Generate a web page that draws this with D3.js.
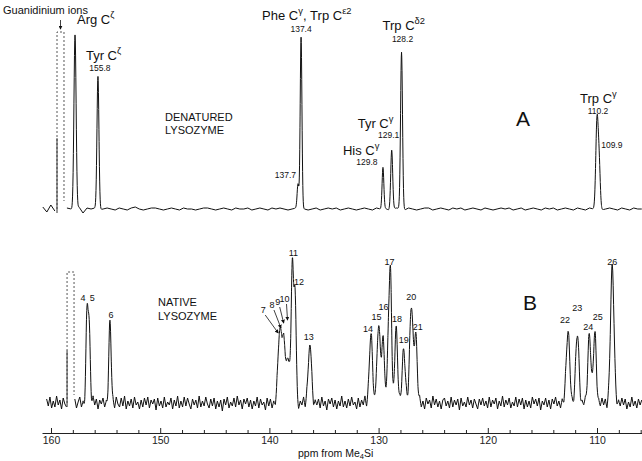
<!DOCTYPE html>
<html>
<head>
<meta charset="utf-8">
<script src="https://cdn.jsdelivr.net/npm/d3@7"></script>
<style>
body { margin: 0; background: #fff; }
svg { display: block; font-family: "Liberation Sans", Arial, sans-serif; fill: #111; }
.trace { fill: none; stroke: #111; stroke-width: 1; stroke-linejoin: round; }
.clip { fill: none; stroke: #444; stroke-width: 0.9; stroke-dasharray: 2,2; }
.clipsolid { fill: none; stroke: #333; stroke-width: 1; }
.axis path, .axis line { stroke: #222; stroke-width: 1; }
.axis text { font-family: "Liberation Sans", Arial, sans-serif; font-size: 10.5px; fill: #222; }
.ptr { stroke: #111; stroke-width: 0.8; }
</style>
</head>
<body>
<svg id="chart" width="642" height="461"></svg>
<script>
// ---------------- data ----------------
// axis ticks (ppm)
var tickMajor = [160, 150, 140, 130, 120, 110];
var tickMinor = [158, 156, 154, 152, 148, 146, 144, 142, 138, 136, 134, 132,
                 128, 126, 124, 122, 118, 116, 114, 112, 108, 106];

// spectrum A (denatured) resolved lines: ppm, intensity, linewidth (sd, ppm)
var peakA_ppm = [157.8, 155.7, 137.38, 137.1, 129.6, 128.8, 127.9, 110.0, 109.8];
var peakA_int = [177, 133, 24, 171, 41, 59, 157, 87, 42];
var peakA_sd  = [0.10, 0.09, 0.08, 0.08, 0.08, 0.09, 0.09, 0.11, 0.10];

// spectrum B (native) resolved lines
var peakB_id  = ["4","5","6","7","8","9","10","11","12","13","14","15","","16","17","18","19","20","21","22","23","24","25","26"];
var peakB_ppm = [156.7, 156.5, 154.6, 139.1, 138.85, 138.6, 138.25, 137.9, 137.65, 136.3,
                 130.7, 130.0, 129.6, 129.1, 128.9, 128.4, 127.7, 127.0, 126.6,
                 112.65, 111.8, 110.7, 110.2, 108.6];
var peakB_int = [86, 72, 80, 58, 50, 44, 46, 138, 112, 58,
                 68, 78, 62, 72, 123, 76, 56, 96, 68,
                 71, 69, 66, 70, 135];
var peakB_sd  = [0.10, 0.10, 0.11, 0.14, 0.14, 0.14, 0.14, 0.10, 0.10, 0.15,
                 0.15, 0.14, 0.14, 0.10, 0.10, 0.13, 0.14, 0.15, 0.13,
                 0.16, 0.15, 0.14, 0.14, 0.16];

// off-scale guanidinium signal (ppm edges, clipped height)
var guanA_ppm = [159.45, 158.81], guanA_top = 177;
var guanB_ppm = [158.53, 157.89], guanB_top = 131;

var rangeA = [160.75, 105.9];
var noiseA = [2,-3,4,-2,3,-4,1,0,-3,2, -4,1,0,1,-1,0,1,0,-1,1,
              0,-1,1,2,0,-1,0,1,1,0, -1,0,1,0,-1,1,0,0,-1,0,
              1,1,0,-1,0,1,0,-1,1,0, 0,1,-1,0,1,0,-1,1,0,1,
              0,-1,0,1,1,0,-1,0,1,-1, 0,1,0,1,-1,0,1,0,-1,0,
              1,0,-1,1,0,1,-1,0,1,0, -1,1,0,-1,0,1,1,-1,0,1,
              0,-1,1,0,1,-1,0,1,0,-1, 1,0,-1,0,1,0,1,-1,0,1,
              -1,0,1,0,-1,1,0,1,-1,0, 1,0,-1,1,0,-1,1,0,1,-1,
              0,1,0,-1,1,0,-1,1,0,0];
var rangeB = [160.4, 105.9];
var noiseB = [4,-3,6,-5,2,-4,7,-2,3,-6,5,-1,-4,3,-7,5,-2,4,-5,1,
              6,-4,2,-6,5,-3,1,-5,7,-2,4,-6,3,-1,5,-4,2,-7,4,-2,
              3,-5,6,-1,-4,5,-3,7,-6,2,-3,4,-5,6,-2,1,-6,3,-4,5,
              -2,6,-5,3,-1,4,-7,5,-3,2,-5,6,-4,1,-2,5,-6,3,-3,7,
              -5,2,-4,6,-3,5,-1,-6,4,-2,3,-5,7,-4,2,-3,6,-1,-5,4,
              -3,5,-6,2,-4,3,-8,4,-2,6,-5,1,-3,5,-4,7,-2,3,-6,4,
              -1,5,-4,3,-6,2,-3,6,-5,4,-2,1,-7,5,-3,4,-5,2,-4,6,
              -2,3,-5,7,-3,2,-6,4,-1,5,-4,3,-6,2,-2,6,-5,4,-3,1,
              5,-6,3,-2,4,-5,6,-3,2,-7,4,-1,5,-4,3,-6,2,-3,7,-4,
              2,-5,4,-3,6,-2,1,-6,5,-4,3,-2,7,-5,2,-3,4,-6,1,5,
              -4,3,-6,5,-1,2,-5,6,-3,4,-7,3,-2,5,-4,1,-6,4,-3,6,
              -2,4,-5,3,-3,6,-4,2,-6,5,-1,3,-5,7,-2,4,-4,2,-6,3,
              5,-3,2,-5,6,-4,3,-2,4,-7,5,-3,1,-4,6,-2,3,-5,4,-1,
              -6,4,-2,5,-3,2,-5,6,-4,3,-1,5,-6,2,-3,7,-4,3,-2,5,
              -5,1,-3,6,-4,4,-2,5,-6,3,-4,2,-5,6,-1,4,-3,5,-7,2,
              -2,5,-4,3,-6,4,-1,6,-3,2,-5,4,-3,7,-2,3,-5,1,-4,6,
              -3,4,-6,2,-2,5,-4,6,-1,3,-5,4,-7,2,-3,5,-2,4,-6,3,
              -1,6,-4,2,-5,3,-3,5,-2,4,-6,1,-4,6,-3,2,-5,4,-2,3];

// ---------------- layout ----------------
var svg = d3.select("#chart");
var x = d3.scaleLinear().domain([160, 110]).range([51, 597]);
var yA = d3.scaleLinear().domain([0, 100]).range([209, 109]);
var yB = d3.scaleLinear().domain([0, 100]).range([403, 303]);

// build a trace from the line list plus baseline noise
function buildTrace(ppms, ints, sds, noise, range, gap) {
  var idx = d3.scaleLinear().domain([0, noise.length - 1]).range(range);
  var pos = noise.map(function(v, i) { return idx(i); });
  var noiseAt = d3.scaleLinear().domain(pos).range(noise);
  var pts = pos.slice();
  ppms.forEach(function(p, k) {
    d3.range(-4, 4.01, 0.25).forEach(function(s) { pts.push(p + s * sds[k]); });
  });
  pts = pts.filter(function(p) { return p <= range[0] && p >= range[1]; })
           .sort(function(a, b) { return b - a; });
  return pts.map(function(p) {
    var v = noiseAt(p) + d3.sum(ppms, function(c, k) {
      return ints[k] * Math.exp(-((p - c) * (p - c)) / (2 * sds[k] * sds[k]));
    });
    return {ppm: p, v: v, gap: gap && p < gap[0] && p > gap[1]};
  });
}

function drawTrace(data, y, width) {
  var line = d3.line()
    .defined(function(d) { return !d.gap; })
    .x(function(d) { return x(d.ppm); })
    .y(function(d) { return y(d.v); });
  svg.append("path").datum(data).attr("class", "trace")
    .attr("stroke-width", width).attr("d", line);
}

function drawClip(edges, top, y) {
  var x0 = x(edges[0]), x1 = x(edges[1]), b = y(0), t = y(top);
  svg.append("path").attr("class", "clip")
    .attr("d", d3.line()([[x0, b], [x0, t], [x1, t], [x1, b - 8]]));
  svg.append("path").attr("class", "clipsolid")
    .attr("d", d3.line()([[x0, b + 4], [x0, y(top * 0.4)]]));
}

// text helper: parts = [[text], [text, "sup"|"sub"]]
function label(xp, yp, parts, size, anchor) {
  var t = svg.append("text").attr("x", xp).attr("y", yp)
    .attr("font-size", size).attr("text-anchor", anchor || "start");
  parts.forEach(function(p, i) {
    var prev = i > 0 ? parts[i - 1][1] : null;
    var dy = 0;
    if (p[1] === "sup") dy = -0.45 * size;
    else if (p[1] === "sub") dy = 0.25 * size;
    if (prev === "sup") dy += 0.45 * size;
    if (prev === "sub") dy -= 0.25 * size;
    t.append("tspan").attr("dy", dy)
      .attr("font-size", p[1] ? size * 0.72 : size).text(p[0]);
  });
  return t;
}

// ---------------- spectrum A ----------------
var traceA = buildTrace(peakA_ppm, peakA_int, peakA_sd, noiseA, rangeA, guanA_ppm);
drawTrace(traceA, yA, 1);
drawClip(guanA_ppm, guanA_top, yA);

svg.append("defs").append("marker").attr("id", "ah")
  .attr("viewBox", "0 0 6 6").attr("refX", 5).attr("refY", 3)
  .attr("markerWidth", 5).attr("markerHeight", 5).attr("orient", "auto")
  .append("path").attr("d", "M0,0L6,3L0,6Z").attr("fill", "#111");

var gx = (x(guanA_ppm[0]) + x(guanA_ppm[1])) / 2;
svg.append("line").attr("class", "ptr")
  .attr("x1", gx).attr("x2", gx).attr("y1", 20).attr("y2", yA(guanA_top) - 3)
  .attr("marker-end", "url(#ah)");
label(3, 14, [["Guanidinium ions"]], 11);
label(x(157.8) + 2, 24, [["Arg C"], ["ζ", "sup"]], 13);
label(x(155.7) - 12, 60, [["Tyr C"], ["ζ", "sup"]], 13);
label(x(155.7) + 2, 71, [["155.8"]], 8.5, "middle");
label(165, 121, [["DENATURED"]], 11);
label(165, 134, [["LYSOZYME"]], 11);
label(x(137.1) - 39, 20, [["Phe C"], ["γ", "sup"], [",  Trp C"], ["ε2", "sup"]], 13);
label(x(137.1), 32, [["137.4"]], 8.5, "middle");
label(x(137.38) - 2, 178, [["137.7"]], 8.5, "end");
label(x(127.9) - 19, 30, [["Trp C"], ["δ2", "sup"]], 13);
label(x(127.9) + 1, 42, [["128.2"]], 8.5, "middle");
label(x(128.8) - 34, 128, [["Tyr C"], ["γ", "sup"]], 13);
label(x(128.8) - 3, 138, [["129.1"]], 8.5, "middle");
label(x(129.6) - 40, 155, [["His C"], ["γ", "sup"]], 13);
label(x(129.6) - 16, 165, [["129.8"]], 8.5, "middle");
label(516, 126, [["A"]], 21);
label(x(110.0) - 17, 103, [["Trp C"], ["γ", "sup"]], 13);
label(x(110.0) + 1, 114, [["110.2"]], 8.5, "middle");
label(x(109.8) + 2, 148, [["109.9"]], 8.5);

// ---------------- spectrum B ----------------
var traceB = buildTrace(peakB_ppm, peakB_int, peakB_sd, noiseB, rangeB, guanB_ppm);
drawTrace(traceB, yB, 1.1);
drawClip(guanB_ppm, guanB_top, yB);

label(158, 306, [["NATIVE"]], 11);
label(158, 320, [["LYSOZYME"]], 11);
label(523, 310, [["B"]], 21);

// peak number labels: dx from line position, baseline y
var numLab = {
  "4": [-4, 301], "5": [3, 301], "6": [1, 318], "7": [-16, 313], "8": [-10, 308],
  "9": [-7, 305], "10": [-4, 302], "11": [1, 256], "12": [4, 285], "13": [-1, 340],
  "14": [-3, 332], "15": [-2, 320], "16": [-5, 310], "17": [-1, 265], "18": [1, 322],
  "19": [0, 343], "20": [0, 300], "21": [2, 330], "22": [-3, 323], "23": [0, 311],
  "24": [-1, 330], "25": [3, 320], "26": [0, 265]
};
var arrowTip = {"7": 333, "8": 328, "9": 323, "10": 320};
peakB_id.forEach(function(id, k) {
  if (!id) return;
  var o = numLab[id], px = x(peakB_ppm[k]);
  label(px + o[0], o[1], [[id]], 9, "middle");
  if (arrowTip[id]) {
    svg.append("line").attr("class", "ptr")
      .attr("x1", px + o[0] + 2).attr("y1", o[1] + 2)
      .attr("x2", px - 1).attr("y2", arrowTip[id])
      .attr("marker-end", "url(#ah)");
  }
});

// ---------------- axis ----------------
var xa = x.copy().domain([x.invert(42), x.invert(642)]).range([42, 642]);
svg.append("g").attr("class", "axis")
  .attr("transform", "translate(0,433)")
  .call(d3.axisBottom(xa).tickValues(tickMajor).tickSize(-5).tickSizeOuter(0)
        .tickPadding(4).tickFormat(d3.format("d")));
svg.append("g").attr("class", "axis")
  .attr("transform", "translate(0,433)")
  .call(d3.axisBottom(xa).tickValues(tickMinor).tickSize(-3).tickSizeOuter(0)
        .tickFormat(""))
  .select(".domain").remove();

label(298, 456.5, [["ppm  from  Me"], ["4", "sub"], ["Si"]], 10.5);
</script>
</body>
</html>
